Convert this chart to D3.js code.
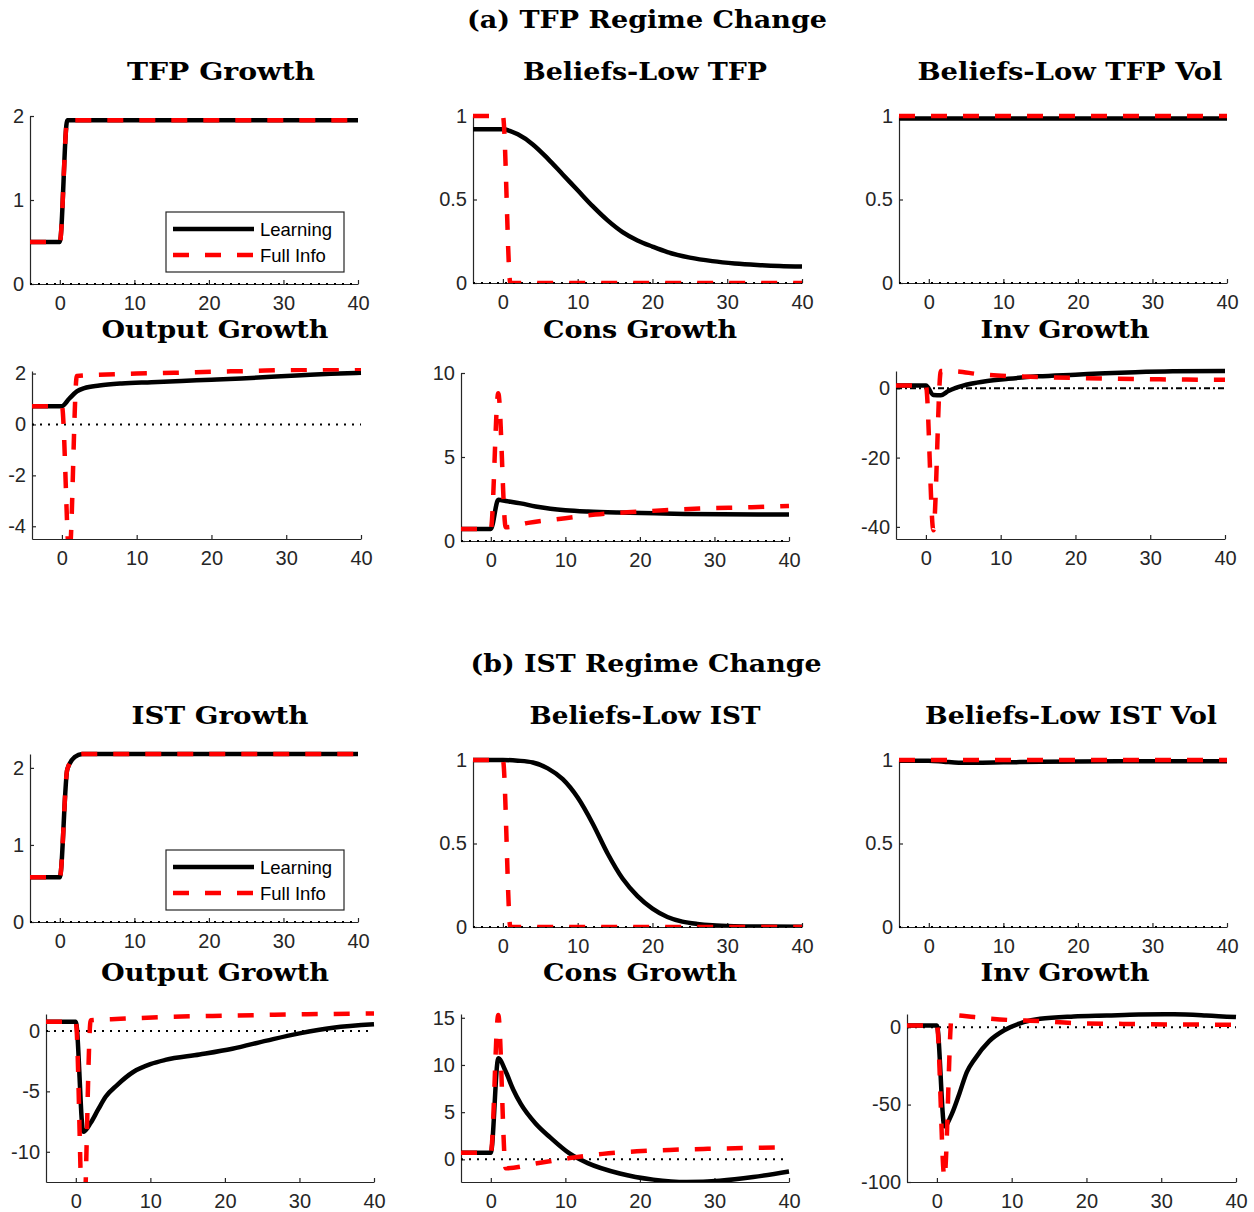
<!DOCTYPE html>
<html>
<head>
<meta charset="utf-8">
<script src="https://cdn.jsdelivr.net/npm/d3@7"></script>
<style>
  body { margin: 0; background: #fff; }
  svg { display: block; }
</style>
</head>
<body>
<svg id="chart" width="1254" height="1212"></svg>
<script>
// horizon and ticks
const horizon = [-4, 40];
const xTicks = [0, 10, 20, 30, 40];
const seriesNames = ["Learning", "Full Info"];
const sectionTitles = ["(a) TFP Regime Change", "(b) IST Regime Change"];

// (a) TFP regime change, [quarter, value]
const tfpGrowthLearn = [[-4, 0.5], [0, 0.5], [1, 1.95], [40, 1.95]];
const tfpGrowthFull = [[-4, 0.5], [0, 0.5], [1, 1.95], [40, 1.95]];
const tfpBeliefLearn = [[-4, 0.92], [0, 0.92], [1, 0.91], [2, 0.89], [4, 0.83], [6, 0.745], [8, 0.65], [10, 0.555], [12, 0.46], [14, 0.375], [16, 0.305], [18, 0.255], [20, 0.218], [22, 0.185], [25, 0.152], [28, 0.131], [31, 0.117], [34, 0.108], [37, 0.102], [40, 0.099]];
const tfpBeliefFull = [[-4, 1], [0, 1], [1, 0], [40, 0]];
const tfpVolLearn = [[-4, 0.985], [40, 0.985]];
const tfpVolFull = [[-4, 1], [40, 1]];
const tfpOutputLearn = [[-4, 0.72], [0, 0.72], [1, 1.02], [2, 1.3], [3, 1.43], [5, 1.53], [8, 1.61], [12, 1.66], [16, 1.71], [20, 1.76], [24, 1.81], [28, 1.87], [32, 1.93], [36, 1.99], [40, 2.03]];
const tfpOutputFull = [[-4, 0.72], [0, 0.72], [1, -5.2], [2, 1.9], [6, 1.96], [10, 2.0], [15, 2.03], [20, 2.07], [25, 2.1], [30, 2.14], [35, 2.16], [40, 2.19]];
const tfpConsLearn = [[-4, 0.72], [0, 0.72], [1, 2.45], [2, 2.38], [4, 2.24], [6, 2.05], [8, 1.92], [10, 1.83], [13, 1.75], [17, 1.69], [22, 1.65], [26, 1.61], [31, 1.59], [40, 1.58]];
const tfpConsFull = [[-4, 0.72], [0, 0.72], [1, 8.8], [2, 0.82], [5, 1.08], [10, 1.36], [14, 1.58], [20, 1.75], [24, 1.85], [28, 1.93], [35, 2.01], [40, 2.09]];
const tfpInvLearn = [[-4, 0.8], [0, 0.8], [1, -1.9], [2, -2.0], [3, -0.8], [4, 0.1], [6, 1.3], [8, 2.05], [11, 2.75], [15, 3.45], [20, 3.95], [24, 4.35], [28, 4.65], [33, 4.9], [40, 5.0]];
const tfpInvFull = [[-4, 0.8], [0, 0.8], [1, -41], [2, 5.0], [4, 4.9], [7, 4.1], [12, 3.45], [16, 3.2], [21, 2.95], [25, 2.8], [31, 2.6], [40, 2.45]];

// (b) IST regime change
const istGrowthLearn = [[-4, 0.58], [0, 0.58], [1, 1.98], [2, 2.14], [3, 2.18], [40, 2.18]];
const istGrowthFull = [[-4, 0.58], [0, 0.58], [1, 1.98], [2, 2.14], [3, 2.18], [40, 2.18]];
const istBeliefLearn = [[-4, 1], [0, 1], [2, 0.996], [4, 0.985], [6, 0.95], [8, 0.885], [10, 0.775], [12, 0.62], [14, 0.44], [16, 0.29], [18, 0.185], [20, 0.11], [22, 0.06], [24, 0.032], [26, 0.018], [28, 0.01], [31, 0.005], [35, 0.003], [40, 0.002]];
const istBeliefFull = [[-4, 1], [0, 1], [1, 0], [40, 0]];
const istVolLearn = [[-4, 0.996], [0, 0.996], [2, 0.99], [4, 0.984], [6, 0.984], [10, 0.986], [15, 0.989], [20, 0.991], [30, 0.992], [40, 0.992]];
const istVolFull = [[-4, 1], [40, 1]];
const istOutputLearn = [[-4, 0.75], [0, 0.75], [1, -8.35], [2, -7.6], [3, -6.5], [4, -5.45], [5.5, -4.5], [7.7, -3.4], [10, -2.75], [12, -2.4], [16.6, -1.95], [21, -1.47], [25.6, -0.8], [30, -0.2], [34.5, 0.27], [40, 0.55]];
const istOutputFull = [[-4, 0.75], [0, 0.75], [1, -17], [2, 0.88], [6, 1.0], [12, 1.15], [21, 1.27], [30, 1.37], [40, 1.45]];
const istConsLearn = [[-4, 0.7], [0, 0.7], [1, 10.7], [2, 9.3], [3, 7.4], [4, 5.9], [6, 3.8], [8, 2.3], [10.6, 0.6], [13, -0.4], [17.3, -1.5], [21.8, -2.15], [26.3, -2.4], [30.7, -2.27], [35.2, -1.88], [40, -1.28]];
const istConsFull = [[-4, 0.7], [0, 0.7], [1, 15.3], [2, -0.95], [6, -0.45], [10.6, 0.14], [15, 0.58], [19.6, 0.85], [24, 1.0], [28.5, 1.1], [34, 1.2], [40, 1.27]];
const istInvLearn = [[-4, 1], [0, 1], [1, -64], [2, -56], [3, -43], [4, -29], [5, -21], [7, -9], [9, -2], [11.6, 3.2], [13.8, 5.4], [18.3, 6.9], [22.7, 7.5], [27, 8.1], [31.7, 8.3], [36, 7.6], [40, 6.5]];
const istInvFull = [[-4, 1], [0, 1], [1, -97], [2, 7.8], [5, 6.5], [9.4, 4.7], [13.8, 3.9], [18.3, 2.6], [25, 2.1], [31.7, 1.7], [40, 1.6]];

// layout: axes box [left, right, top, bottom], title centre and width
const panels = [
  { title: "TFP Growth", learn: tfpGrowthLearn, full: tfpGrowthFull, y: [0, 2], ticks: [0, 1, 2], box: [30, 358, 116, 284], tx: 221, ty: 80, tw: 188, legend: true },
  { title: "Beliefs-Low TFP", learn: tfpBeliefLearn, full: tfpBeliefFull, y: [0, 1], ticks: [0, 0.5, 1], box: [473, 802, 116, 283], tx: 645, ty: 80, tw: 244 },
  { title: "Beliefs-Low TFP Vol", learn: tfpVolLearn, full: tfpVolFull, y: [0, 1], ticks: [0, 0.5, 1], box: [899, 1227, 116, 283], tx: 1070, ty: 80, tw: 305 },
  { title: "Output Growth", learn: tfpOutputLearn, full: tfpOutputFull, y: [-4.5, 2.1], ticks: [-4, -2, 0, 2], box: [32, 361, 371, 539], tx: 215, ty: 338, tw: 227 },
  { title: "Cons Growth", learn: tfpConsLearn, full: tfpConsFull, y: [0, 10], ticks: [0, 5, 10], box: [461, 789, 373, 541], tx: 640, ty: 338, tw: 194 },
  { title: "Inv Growth", learn: tfpInvLearn, full: tfpInvFull, y: [-43.5, 5], ticks: [-40, -20, 0], box: [896, 1225, 371, 539], tx: 1065, ty: 338, tw: 169, dashDot: true },
  { title: "IST Growth", learn: istGrowthLearn, full: istGrowthFull, y: [0, 2.18], ticks: [0, 1, 2], box: [30, 358, 754, 922], tx: 220, ty: 724, tw: 177, legend: true },
  { title: "Beliefs-Low IST", learn: istBeliefLearn, full: istBeliefFull, y: [0, 1], ticks: [0, 0.5, 1], box: [473, 802, 760, 927], tx: 645, ty: 724, tw: 231 },
  { title: "Beliefs-Low IST Vol", learn: istVolLearn, full: istVolFull, y: [0, 1], ticks: [0, 0.5, 1], box: [899, 1227, 760, 927], tx: 1071, ty: 724, tw: 292 },
  { title: "Output Growth", learn: istOutputLearn, full: istOutputFull, y: [-12.5, 1.4], ticks: [-10, -5, 0], box: [46, 374, 1014, 1182], tx: 215, ty: 981, tw: 228 },
  { title: "Cons Growth", learn: istConsLearn, full: istConsFull, y: [-2.4, 15.4], ticks: [0, 5, 10, 15], box: [461, 789, 1014, 1182], tx: 640, ty: 981, tw: 194 },
  { title: "Inv Growth", learn: istInvLearn, full: istInvFull, y: [-100, 8.5], ticks: [-100, -50, 0], box: [907, 1236, 1014, 1182], tx: 1065, ty: 981, tw: 169 }
];

const svg = d3.select("#chart");
const axisColor = "#262626";
const titleFont = "'DejaVu Serif', 'Liberation Serif', serif";
const tickFont = "'Liberation Sans', Arial, sans-serif";

function title(xc, yb, len, str) {
  svg.append("text").attr("x", xc).attr("y", yb).attr("text-anchor", "middle")
    .attr("font-family", titleFont).attr("font-weight", "bold").attr("font-size", 24)
    .attr("textLength", len).attr("lengthAdjust", "spacingAndGlyphs")
    .text(str);
}

title(647, 28, 360, sectionTitles[0]);
title(646, 672, 351, sectionTitles[1]);

panels.forEach(drawPanel);

function drawPanel(p, i) {
  const [x0, x1, y0, y1] = p.box;
  const x = d3.scaleLinear().domain(horizon).range([x0, x1]);
  const y = d3.scaleLinear().domain(p.y).range([y1, y0]);
  const g = svg.append("g");

  g.append("clipPath").attr("id", "clip" + i).append("rect")
    .attr("x", x0 - 3).attr("y", y0 - 3).attr("width", x1 - x0 + 6).attr("height", y1 - y0 + 3);

  const xAxis = g.append("g").attr("transform", `translate(0,${y1})`)
    .call(d3.axisBottom(x).tickValues(xTicks).tickSizeInner(-4).tickSizeOuter(0).tickPadding(12).tickFormat(d => String(d)));
  const yAxis = g.append("g").attr("transform", `translate(${x0},0)`)
    .call(d3.axisLeft(y).tickValues(p.ticks).tickSizeInner(-4).tickSizeOuter(0).tickPadding(6).tickFormat(d => String(d)));
  [xAxis, yAxis].forEach(a => {
    a.select(".domain").attr("stroke", axisColor).attr("stroke-width", 1.2);
    a.selectAll(".tick line").attr("stroke", axisColor).attr("stroke-width", 1.2);
    a.selectAll(".tick text").attr("fill", axisColor).attr("font-family", tickFont).attr("font-size", 20);
  });

  // zero reference line
  g.append("line")
    .attr("x1", x(horizon[0])).attr("x2", x(horizon[1]))
    .attr("y1", y(0)).attr("y2", y(0))
    .attr("stroke", "#000").attr("stroke-width", 2)
    .attr("stroke-dasharray", p.dashDot ? "6,3,2,3" : "2,6");

  const line = d3.line().x(d => x(d[0])).y(d => y(d[1])).curve(d3.curveMonotoneX);
  const plot = g.append("g").attr("clip-path", `url(#clip${i})`);
  plot.append("path").attr("d", line(p.learn))
    .attr("fill", "none").attr("stroke", "#000").attr("stroke-width", 4.5)
    .attr("stroke-linejoin", "round");
  plot.append("path").attr("d", line(p.full))
    .attr("fill", "none").attr("stroke", "#ff0000").attr("stroke-width", 4.5)
    .attr("stroke-dasharray", "16,16").attr("stroke-linejoin", "round");

  title(p.tx, p.ty, p.tw, p.title);

  if (p.legend) {
    const lx = x0 + 136, ly = y0 + 96;
    const lg = g.append("g").attr("transform", `translate(${lx},${ly})`);
    lg.append("rect").attr("width", 178).attr("height", 60)
      .attr("fill", "#fff").attr("stroke", axisColor).attr("stroke-width", 1.2);
    seriesNames.forEach((name, k) => {
      lg.append("line").attr("x1", 7).attr("x2", 88)
        .attr("y1", 17 + k * 26).attr("y2", 17 + k * 26)
        .attr("stroke", k ? "#ff0000" : "#000").attr("stroke-width", 4.5)
        .attr("stroke-dasharray", k ? "16,16" : null);
      lg.append("text").attr("x", 94).attr("y", 24 + k * 26)
        .attr("font-family", tickFont).attr("font-size", 18.5).attr("fill", "#000")
        .text(name);
    });
  }
}
</script>
</body>
</html>
